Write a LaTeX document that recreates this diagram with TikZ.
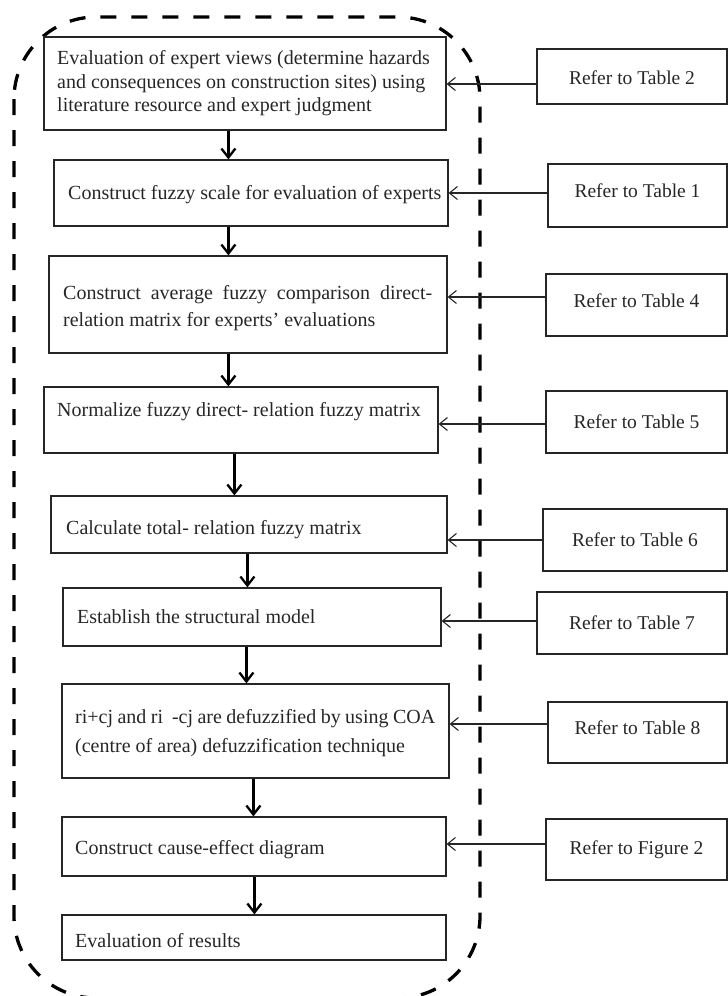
\documentclass[tikz,border=0pt]{standalone}
\usepackage{fontspec}
\setmainfont{Liberation Serif}
\usetikzlibrary{arrows.meta}
\begin{document}
\begin{tikzpicture}[x=1pt,y=-1pt,
  box/.style={draw=black!85, line width=1.2pt, inner sep=0pt},
  txt/.style={inner sep=0pt, align=left, text=black!85, font=\fontsize{20}{23.5}\selectfont},
  refbox/.style={draw=black!85, line width=1.2pt, inner sep=0pt, minimum height=#1, text=black!85, font=\fontsize{19.5}{23.5}\selectfont},
  downar/.style={line width=2.3pt, black, -{Straight Barb[length=9pt,width=14pt]}},
  refar/.style={line width=1.1pt, black!85, -{Straight Barb[length=8pt,width=13pt]}},
  outline/.style={line width=3.3pt, black, dash pattern=on 16pt off 15pt, rounded corners=82pt}
]
\useasboundingbox (0,0) rectangle (728,996);
\clip (0,0) rectangle (728,996);

% dashed outline
\draw[outline] (14,17) rectangle (480,998);

% main boxes
\node[box, minimum width=402pt, minimum height=93pt] (b1) at (245,83.5) {};
\node[box, minimum width=394pt, minimum height=66pt] (b2) at (251,193) {};
\node[box, minimum width=398pt, minimum height=97pt] (b3) at (248,304.5) {};
\node[box, minimum width=394pt, minimum height=66pt] (b4) at (241,420) {};
\node[box, minimum width=396pt, minimum height=57pt] (b5) at (249,524.5) {};
\node[box, minimum width=378pt, minimum height=58pt] (b6) at (252,617) {};
\node[box, minimum width=387pt, minimum height=94pt] (b7) at (255.5,731) {};
\node[box, minimum width=384pt, minimum height=59pt] (b8) at (254,846.5) {};
\node[box, minimum width=384pt, minimum height=45pt] (b9) at (254,937.5) {};

% texts of main boxes
\node[txt, anchor=west] (t1) at (57,83.5) {Evaluation of expert views (determine hazards\\and consequences on construction sites) using\\literature resource and expert judgment};
\node[txt, anchor=west] (t2) at (68,195) {Construct fuzzy scale for evaluation of experts};
\node[txt, anchor=west, font=\fontsize{20}{27}\selectfont] (t3) at (63,308.5) {\makebox[369pt][s]{Construct average fuzzy comparison direct-}\\relation matrix for experts’ evaluations};
\node[txt, anchor=west] (t4) at (57,412) {Normalize fuzzy direct- relation fuzzy matrix};
\node[txt, anchor=west] (t5) at (66,530) {Calculate total- relation fuzzy matrix};
\node[txt, anchor=west] (t6) at (77,617) {Establish the structural model};
\node[txt, anchor=west, font=\fontsize{20}{29}\selectfont] (t7) at (75,733.5) {\makebox[360pt][s]{ri+cj and ri \ -cj are defuzzified by using COA}\\(centre of area) defuzzification technique};
\node[txt, anchor=west] (t8) at (75,850) {Construct cause-effect diagram};
\node[txt, anchor=west] (t9) at (75,941) {Evaluation of results};

% reference boxes
\node[refbox=55pt, minimum width=190pt, text height=20.1pt, text depth=4.3pt] (r1) at (632,76.5) {Refer to Table 2};
\node[refbox=63pt, minimum width=179pt, text height=8.1pt, text depth=4.3pt] (r2) at (637.5,195.5) {Refer to Table 1};
\node[refbox=62pt, minimum width=181pt, text height=9.1pt, text depth=4.3pt] (r3) at (636.5,305) {Refer to Table 4};
\node[refbox=62pt, minimum width=181pt] (r4) at (636.5,422) {Refer to Table 5};
\node[refbox=62pt, minimum width=184pt] (r5) at (635,540) {Refer to Table 6};
\node[refbox=62pt, minimum width=190pt] (r6) at (632,623) {Refer to Table 7};
\node[refbox=61pt, minimum width=179pt, text height=8.1pt, text depth=4.3pt] (r7) at (637.5,732.5) {Refer to Table 8};
\node[refbox=61pt, minimum width=181pt] (r8) at (636.5,849.5) {Refer to Figure 2};

% downward arrows
\draw[downar] ([xshift=185pt]b1.south west) -- ([xshift=175pt]b2.north west);
\draw[downar] ([xshift=175pt]b2.south west) -- ([xshift=180pt]b3.north west);
\draw[downar] ([xshift=180pt]b3.south west) -- ([xshift=185pt]b4.north west);
\draw[downar] ([xshift=191pt]b4.south west) -- ([xshift=184pt]b5.north west);
\draw[downar] ([xshift=197pt]b5.south west) -- ([xshift=185pt]b6.north west);
\draw[downar] ([xshift=184pt]b6.south west) -- ([xshift=185pt]b7.north west);
\draw[downar] ([xshift=192pt]b7.south west) -- ([xshift=192pt]b8.north west);
\draw[downar] ([xshift=193pt]b8.south west) -- ([xshift=193pt]b9.north west);

% reference arrows
\draw[refar] ([yshift=-7.5pt]r1.west) -- ([yshift=-7.5pt]r1.west -| b1.east);
\draw[refar] ([yshift=2.5pt]r2.west) -- ([yshift=2.5pt]r2.west -| b2.east);
\draw[refar] ([yshift=8pt]r3.west) -- ([yshift=8pt]r3.west -| b3.east);
\draw[refar] ([yshift=-2pt]r4.west) -- ([yshift=-2pt]r4.west -| b4.east);
\draw[refar] (r5.west) -- (r5.west -| b5.east);
\draw[refar] ([yshift=2pt]r6.west) -- ([yshift=2pt]r6.west -| b6.east);
\draw[refar] ([yshift=8.5pt]r7.west) -- ([yshift=8.5pt]r7.west -| b7.east);
\draw[refar] ([yshift=5.5pt]r8.west) -- ([yshift=5.5pt]r8.west -| b8.east);
\end{tikzpicture}
\end{document}
